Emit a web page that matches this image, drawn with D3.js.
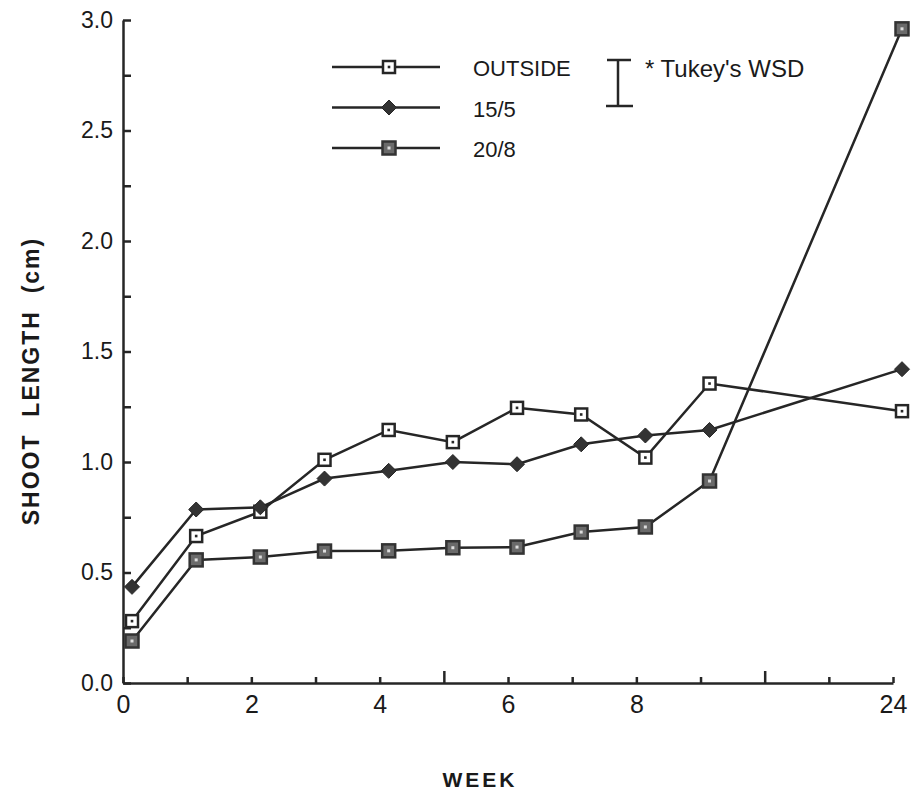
<!DOCTYPE html>
<html lang="en">
<head>
<meta charset="UTF-8">
<title>Shoot length by week</title>
<script src="https://cdnjs.cloudflare.com/ajax/libs/d3/7.8.5/d3.min.js"></script>
<style>
  body { margin: 0; background: #fff; }
  svg text { font-family: "Liberation Sans", Arial, sans-serif; fill: #1a1a1a; }
</style>
</head>
<body>
<svg id="chart" width="913" height="793"></svg>
<script>
// values
const weeks = [0, 1, 2, 3, 4, 5, 6, 7, 8, 9, 24];
const outside = [0.28, 0.665, 0.775, 1.01, 1.145, 1.09, 1.245, 1.215, 1.02, 1.355, 1.23];
const t15_5 = [0.435, 0.785, 0.795, 0.925, 0.96, 1.0, 0.99, 1.08, 1.12, 1.145, 1.42];
const t20_8 = [0.19, 0.557, 0.57, 0.597, 0.598, 0.612, 0.615, 0.683, 0.706, 0.914, 2.96];
const seriesNames = ["OUTSIDE", "15/5", "20/8"];
const xTickWeeks = [0, 1, 2, 3, 4, 5, 6, 7, 8, 9, 14, 19, 24];
const xTickLabels = [0, 2, 4, 6, 8, 24];
const xMajorTicks = [5, 14];
const yTicks = d3.range(0, 3.01, 0.25);

const ink = "#262626";
const svg = d3.select("#chart");

// weeks 0..9 evenly spaced, then 24 three slots further out
const x = d3.scaleLinear().domain([0, 9, 24]).range([123, 123 + 9 * 64.17, 893]);
const y = d3.scaleLinear().domain([0, 3]).range([683, 20]);
const markerShift = 9; // the points sit a little right of their ticks

const px = d => x(d) + markerShift;

// axes
const xAxis = d3.axisBottom(x)
  .tickValues(xTickWeeks)
  .tickSizeInner(-6)
  .tickSizeOuter(0)
  .tickPadding(12)
  .tickFormat(d => xTickLabels.includes(d) ? d : "");
const gx = svg.append("g").attr("transform", `translate(0,${y(0)})`).call(xAxis);
gx.selectAll(".tick line").filter(d => xMajorTicks.includes(d)).attr("y2", -12);
gx.selectAll(".tick line").attr("stroke", ink).attr("stroke-width", 2.5);
gx.select(".domain").attr("stroke", ink).attr("stroke-width", 2.5);
gx.selectAll("text").attr("font-size", 25).attr("fill", ink);

const yAxis = d3.axisLeft(y)
  .tickValues(yTicks)
  .tickSizeInner(-8)
  .tickSizeOuter(0)
  .tickPadding(10)
  .tickFormat(d => Math.abs(d * 2 - Math.round(d * 2)) < 1e-6 ? d.toFixed(1) : "");
const gy = svg.append("g").attr("transform", `translate(${x(0)},0)`).call(yAxis);
gy.selectAll(".tick line").attr("stroke", ink).attr("stroke-width", 2.5);
gy.select(".domain").attr("stroke", ink).attr("stroke-width", 2.5);
gy.selectAll("text").attr("font-size", 23).attr("fill", ink);

// axis titles
svg.append("text")
  .attr("transform", "translate(39,381) rotate(-90)")
  .attr("text-anchor", "middle")
  .attr("font-size", 23).attr("font-weight", "bold")
  .attr("letter-spacing", 2)
  .style("white-space", "pre")
  .text("SHOOT  LENGTH  (cm)");

svg.append("text")
  .attr("x", 480).attr("y", 787)
  .attr("text-anchor", "middle")
  .attr("font-size", 21).attr("font-weight", "bold")
  .attr("letter-spacing", 3)
  .text("WEEK");

// markers
function drawMarker(g, kind, cx, cy) {
  if (kind === "OUTSIDE") {
    g.append("rect").attr("x", cx - 6).attr("y", cy - 6).attr("width", 12).attr("height", 12)
      .attr("fill", "#fff").attr("stroke", ink).attr("stroke-width", 2.5);
    g.append("rect").attr("x", cx - 1.3).attr("y", cy - 1.3).attr("width", 2.6).attr("height", 2.6).attr("fill", ink);
  } else if (kind === "15/5") {
    g.append("path").attr("d", `M${cx},${cy - 7.5}L${cx + 7.5},${cy}L${cx},${cy + 7.5}L${cx - 7.5},${cy}Z`)
      .attr("fill", "#333").attr("stroke", ink).attr("stroke-width", 1);
  } else {
    g.append("rect").attr("x", cx - 6.5).attr("y", cy - 6.5).attr("width", 13).attr("height", 13)
      .attr("fill", "#6a6a6a").attr("stroke", "#333").attr("stroke-width", 2.5);
    g.append("rect").attr("x", cx - 1.5).attr("y", cy - 1.5).attr("width", 3).attr("height", 3).attr("fill", "#ddd");
  }
}

const series = [
  { name: seriesNames[0], values: outside },
  { name: seriesNames[1], values: t15_5 },
  { name: seriesNames[2], values: t20_8 }
];

const line = d3.line().x((d, i) => px(weeks[i])).y(d => y(d));

const plot = svg.append("g");
series.forEach(s => {
  plot.append("path")
    .datum(s.values)
    .attr("d", line)
    .attr("fill", "none")
    .attr("stroke", ink)
    .attr("stroke-width", 2.5);
});
series.forEach(s => {
  const g = plot.append("g");
  s.values.forEach((v, i) => drawMarker(g, s.name, px(weeks[i]), y(v)));
});

// legend
const legend = svg.append("g");
series.forEach((s, i) => {
  const ly = 67 + i * 40.5;
  legend.append("line").attr("x1", 332).attr("x2", 440).attr("y1", ly).attr("y2", ly)
    .attr("stroke", ink).attr("stroke-width", 2.5);
  drawMarker(legend, s.name, 389, ly);
  legend.append("text").attr("x", 473).attr("y", ly + 9)
    .attr("font-size", 22).attr("fill", ink)
    .text(s.name);
});

// Tukey's WSD bar
const wsd = svg.append("g").attr("stroke", ink).attr("stroke-width", 2.5);
wsd.append("line").attr("x1", 618).attr("x2", 618).attr("y1", 60).attr("y2", 106);
wsd.append("line").attr("x1", 607).attr("x2", 631).attr("y1", 60).attr("y2", 60);
wsd.append("line").attr("x1", 606).attr("x2", 633).attr("y1", 106).attr("y2", 106);
svg.append("text").attr("x", 645).attr("y", 77)
  .attr("font-size", 24).attr("fill", ink)
  .text("* Tukey's WSD");
</script>
</body>
</html>
